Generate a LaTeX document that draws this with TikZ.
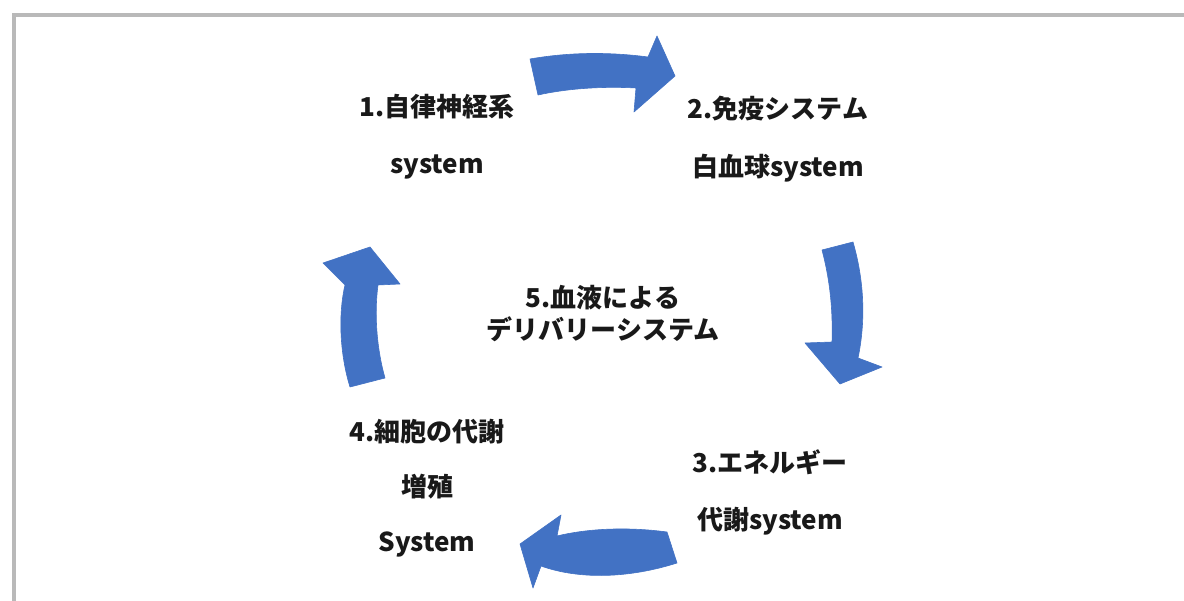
\documentclass[tikz,border=0pt]{standalone}
\usepackage{fontspec}
\newfontfamily\jp{Noto Sans CJK JP}
\definecolor{arrowblue}{RGB}{66,114,196}
\definecolor{txt}{RGB}{25,25,25}
\definecolor{framegray}{RGB}{185,185,185}
\tikzset{
  blockarrow/.style={fill=arrowblue, draw=arrowblue, line width=0.6pt, line join=round},
  lbl/.style={font=\jp\bfseries\fontsize{26}{#1}\selectfont, text=txt, align=center, inner sep=0pt},
}
\begin{document}
\begin{tikzpicture}[x=1pt,y=-1pt]
\useasboundingbox (0,0) rectangle (1184,601);
\fill[white] (0,0) rectangle (1184,601);
% frame
\draw[framegray, line width=3.5pt] (14,610) -- (14,15) -- (1190,15);

% labels
\node[lbl=57] (n1) at (437,137) {1.自律神経系\\system};
\node[lbl=58] (n2) at (778,139) {2.免疫システム\\白血球system};
\node[lbl=32] (n5) at (603,314) {5.血液による\\デリバリーシステム};
\node[lbl=57] (n3) at (770,492) {3.エネルギー\\代謝system};
\node[lbl=55] (n4) at (427,488) {4.細胞の代謝\\増殖\\System};

% top arrow (to the right)
\fill[blockarrow] (530,59) .. controls (570,52) and (610,52) .. (648,57)
  -- (657,36) -- (675,76) -- (634,112) -- (636,88)
  .. controls (600,86) and (565,89) .. (538,95) -- cycle;
% right arrow (down)
\fill[blockarrow] (822,250) .. controls (830,280) and (833,310) .. (832,342)
  -- (805,343) -- (840,384) -- (882,367) -- (858,358)
  .. controls (866,320) and (864,280) .. (853,242) -- cycle;
% bottom arrow (to the left)
\fill[blockarrow] (667,532) .. controls (630,527) and (590,528) .. (557,536)
  -- (561,515) -- (520,544) -- (533,588) -- (541,566)
  .. controls (580,580) and (630,578) .. (677,563) -- cycle;
% left arrow (up)
\fill[blockarrow] (350,387) .. controls (340,355) and (338,315) .. (345,285)
  -- (323,263) -- (370,247) -- (400,284) -- (378,285)
  .. controls (374,315) and (377,350) .. (385,378) -- cycle;
\end{tikzpicture}
\end{document}
